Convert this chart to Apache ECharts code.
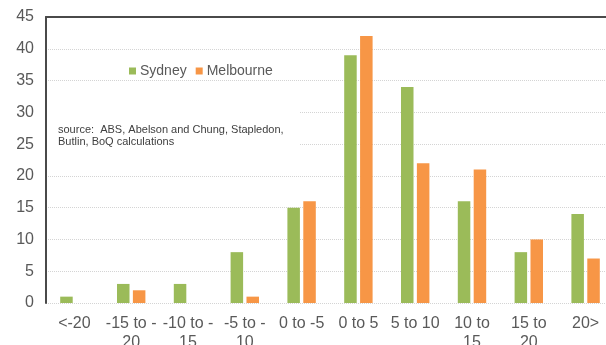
<!DOCTYPE html>
<html>
<head>
<meta charset="utf-8">
<script src="https://cdn.jsdelivr.net/npm/echarts@6/dist/echarts.min.js"></script>
<style>html,body{margin:0;padding:0;background:#fff;}#c{width:606px;height:345px;}</style>
</head>
<body>
<div id="c"></div>
<script>
var categories = ['<-20', '-15 to -20', '-10 to -15', '-5 to -10', '0 to -5', '0 to 5', '5 to 10', '10 to 15', '15 to 20', '20>'];
var tickLabels = ['<-20', '-15 to -\n20', '-10 to -\n15', '-5 to -\n10', '0 to -5', '0 to 5', '5 to 10', '10 to\n15', '15 to\n20', '20>'];
var sydney = [1, 3, 3, 8, 15, 39, 34, 16, 8, 14];
var melbourne = [0, 2, 0, 1, 16, 42, 22, 21, 10, 7];
var sourceNote = 'source:  ABS, Abelson and Chung, Stapledon,\nButlin, BoQ calculations';

var font = "'Liberation Sans', Arial, sans-serif";
var chart = echarts.init(document.getElementById('c'), null, {renderer: 'canvas'});
chart.setOption({
  animation: false,
  textStyle: {fontFamily: font},
  title: {
    text: sourceNote,
    left: 47, top: 100,
    padding: [24, 16, 14, 11],
    backgroundColor: '#ffffff',
    textStyle: {fontSize: 11, fontWeight: 'normal', color: '#404040', lineHeight: 12, fontFamily: font}
  },
  legend: {
    left: 124, top: 59,
    icon: 'rect', itemWidth: 7, itemHeight: 7, itemGap: 9,
    textStyle: {fontSize: 14, color: '#595959', padding: [0, 0, 0, -1]},
    data: ['Sydney', 'Melbourne']
  },
  grid: {left: 46, right: -8, top: 17, bottom: 42, containLabel: false, outerBoundsMode: 'none'},
  xAxis: [{
    type: 'category', data: categories, position: 'bottom',
    axisLine: {show: false}, axisTick: {show: false},
    axisLabel: {
      interval: 0, margin: 11, fontSize: 16, color: '#595959', lineHeight: 19,
      formatter: function (v, i) { return tickLabels[i]; }
    }
  }, {
    type: 'category', data: categories, position: 'top',
    axisLine: {show: true, lineStyle: {color: '#4a4a4a', width: 2}},
    axisTick: {show: false}, axisLabel: {show: false}
  }],
  yAxis: {
    type: 'value', min: 0, max: 45, interval: 5,
    axisLine: {show: true, lineStyle: {color: '#4a4a4a', width: 2}},
    axisTick: {show: false},
    axisLabel: {fontSize: 16, color: '#595959', margin: 12},
    splitLine: {lineStyle: {color: '#d4d4d4', type: 'dotted', width: 1}}
  },
  series: [{
    name: 'Sydney', type: 'bar', data: sydney,
    barCategoryGap: '50%', barGap: '27%',
    itemStyle: {color: '#9BBB59'}
  }, {
    name: 'Melbourne', type: 'bar', data: melbourne,
    barCategoryGap: '50%', barGap: '27%',
    itemStyle: {color: '#F79646'}
  }]
});
</script>
</body>
</html>
